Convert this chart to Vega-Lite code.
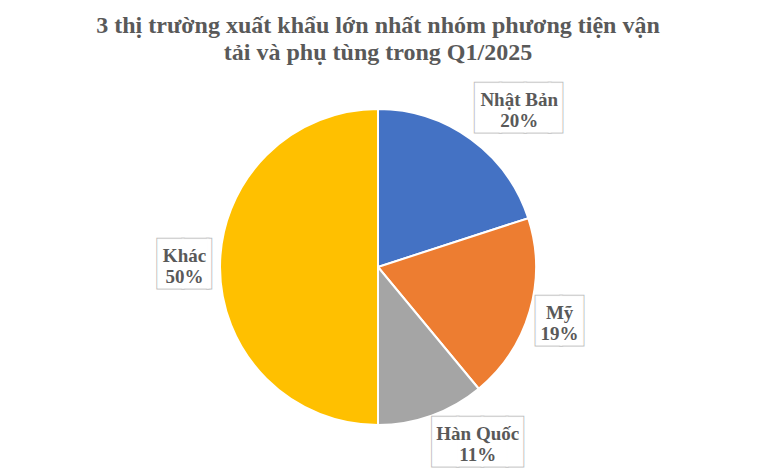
{
  "$schema": "https://vega.github.io/schema/vega-lite/v6.json",
  "autosize": {"type": "none"},
  "width": 756,
  "height": 316,
  "padding": {"left": 0, "top": 109, "right": 4, "bottom": 45},
  "background": "white",
  "config": {"view": {"stroke": null}, "font": "Liberation Serif"},
  "title": {
    "text": ["3 thị trường xuất khẩu lớn nhất nhóm phương tiện vận", "tải và phụ tùng trong Q1/2025"],
    "font": "Liberation Serif",
    "fontSize": 24,
    "fontWeight": "bold",
    "color": "#595959",
    "lineHeight": 27,
    "anchor": "middle",
    "offset": 24
  },
  "data": {
    "values": [
      {"market": "Nhật Bản", "share": 0.20, "rank": 1},
      {"market": "Mỹ", "share": 0.19, "rank": 2},
      {"market": "Hàn Quốc", "share": 0.11, "rank": 3},
      {"market": "Khác", "share": 0.50, "rank": 4}
    ]
  },
  "layer": [
    {
      "mark": {"type": "arc", "radius": 158, "stroke": "white", "strokeWidth": 2},
      "encoding": {
        "theta": {"field": "share", "type": "quantitative", "stack": true},
        "order": {"field": "rank", "type": "quantitative"},
        "color": {
          "field": "market",
          "type": "nominal",
          "scale": {
            "domain": ["Nhật Bản", "Mỹ", "Hàn Quốc", "Khác"],
            "range": ["#4472C4", "#ED7D31", "#A5A5A5", "#FFC000"]
          },
          "legend": null
        }
      }
    },
    {
      "encoding": {
        "theta": {
          "field": "rank", "type": "quantitative", "stack": null,
          "scale": {"type": "linear", "domain": [1, 2, 3, 4], "range": [0.733, 1.869, 2.628, 4.719], "zero": false, "nice": false}
        },
        "radius": {
          "field": "rank", "type": "quantitative",
          "scale": {"type": "linear", "domain": [1, 2, 3, 4], "range": [211, 190, 203, 193.5], "zero": false, "nice": false}
        }
      },
      "layer": [
        {
          "transform": [{"filter": "datum.market === 'Nhật Bản'"}],
          "layer": [
            {"mark": {"type": "text", "text": "███▌", "font": "DejaVu Sans Mono", "fontSize": 41, "align": "center", "baseline": "middle", "dx": 6, "fill": "#BFBFBF", "stroke": "#BFBFBF", "strokeWidth": 3}},
            {"mark": {"type": "text", "text": "███▌", "font": "DejaVu Sans Mono", "fontSize": 41, "align": "center", "baseline": "middle", "dx": 6, "fill": "white", "stroke": "white", "strokeWidth": 1}}
          ]
        },
        {
          "transform": [{"filter": "datum.market === 'Mỹ'"}],
          "layer": [
            {"mark": {"type": "text", "text": "█▉", "font": "DejaVu Sans Mono", "fontSize": 41, "align": "center", "baseline": "middle", "dx": 1.5, "fill": "#BFBFBF", "stroke": "#BFBFBF", "strokeWidth": 3}},
            {"mark": {"type": "text", "text": "█▉", "font": "DejaVu Sans Mono", "fontSize": 41, "align": "center", "baseline": "middle", "dx": 1.5, "fill": "white", "stroke": "white", "strokeWidth": 1}}
          ]
        },
        {
          "transform": [{"filter": "datum.market === 'Hàn Quốc'"}],
          "layer": [
            {"mark": {"type": "text", "text": "███▋", "font": "DejaVu Sans Mono", "fontSize": 41, "align": "center", "baseline": "middle", "dx": 4.6, "fill": "#BFBFBF", "stroke": "#BFBFBF", "strokeWidth": 3}},
            {"mark": {"type": "text", "text": "███▋", "font": "DejaVu Sans Mono", "fontSize": 41, "align": "center", "baseline": "middle", "dx": 4.6, "fill": "white", "stroke": "white", "strokeWidth": 1}}
          ]
        },
        {
          "transform": [{"filter": "datum.market === 'Khác'"}],
          "layer": [
            {"mark": {"type": "text", "text": "██▏", "font": "DejaVu Sans Mono", "fontSize": 41, "align": "center", "baseline": "middle", "dx": 10.8, "fill": "#BFBFBF", "stroke": "#BFBFBF", "strokeWidth": 3}},
            {"mark": {"type": "text", "text": "██▏", "font": "DejaVu Sans Mono", "fontSize": 41, "align": "center", "baseline": "middle", "dx": 10.8, "fill": "white", "stroke": "white", "strokeWidth": 1}}
          ]
        },
        {
          "mark": {"type": "text", "font": "Liberation Serif", "fontSize": 19, "fontWeight": "bold", "fill": "#595959", "align": "center", "baseline": "alphabetic", "dy": -4},
          "encoding": {"text": {"field": "market", "type": "nominal"}}
        },
        {
          "mark": {"type": "text", "font": "Liberation Serif", "fontSize": 19, "fontWeight": "bold", "fill": "#595959", "align": "center", "baseline": "alphabetic", "dy": 17},
          "encoding": {"text": {"field": "share", "type": "quantitative", "format": ".0%"}}
        }
      ]
    }
  ],
  "resolve": {"scale": {"theta": "independent", "radius": "independent"}}
}
